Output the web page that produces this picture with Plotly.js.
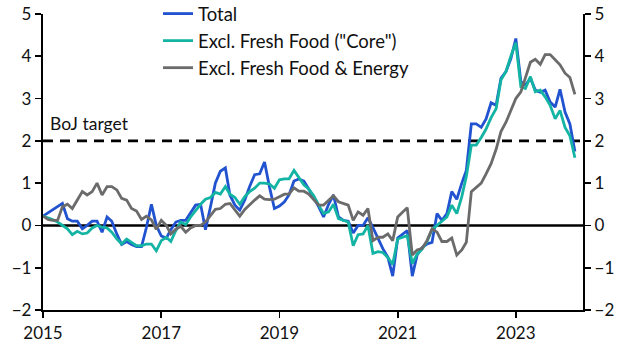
<!DOCTYPE html>
<html><head><meta charset="utf-8">
<script src="https://cdn.plot.ly/plotly-3.0.1.min.js"></script>
<style>html,body{margin:0;padding:0;background:#fff;}#chart{width:630px;height:355px;}</style>
</head><body><div id="chart"></div>
<script>
// Monthly, Jan 2015 - Jan 2024, % y/y
const startYear = 2015;
const total = [0.22,0.3,0.38,0.45,0.52,0.16,0.1,0.1,-0.08,0.0,0.1,0.1,
 -0.16,0.2,0.1,-0.2,-0.45,-0.38,-0.45,-0.5,-0.5,-0.05,0.5,0.0,
 -0.25,-0.3,-0.1,0.08,0.12,0.12,0.3,0.48,0.5,-0.1,0.44,1.0,
 1.28,1.36,0.72,0.48,0.36,0.6,0.92,1.2,1.22,1.5,0.9,0.4,
 0.46,0.56,0.72,1.05,1.1,1.05,0.86,0.66,0.44,0.2,0.5,0.72,
 0.2,0.12,0.1,-0.18,0.0,0.0,0.18,-0.05,-0.3,-0.55,-0.75,-1.2,
 -0.3,-0.2,-0.12,-1.2,-0.7,-0.52,-0.44,-0.4,0.28,0.12,0.28,0.8,
 0.62,1.0,1.3,2.4,2.4,2.32,2.52,2.9,2.84,3.48,3.64,3.94,
 4.42,3.4,3.32,3.48,3.2,3.15,3.2,2.92,2.8,3.22,2.68,2.4,
 1.75];
const core = [0.22,0.18,0.14,0.08,0.0,-0.08,-0.22,-0.14,-0.2,-0.18,-0.06,0.0,
 -0.04,-0.06,-0.16,-0.32,-0.44,-0.32,-0.4,-0.48,-0.48,-0.44,-0.44,-0.6,
 -0.36,-0.28,-0.38,-0.12,0.08,0.02,0.2,0.36,0.5,0.62,0.66,0.78,
 0.74,0.92,0.74,0.66,0.5,0.68,0.8,0.88,1.0,1.0,0.98,0.88,
 1.08,1.1,1.1,1.3,1.12,0.96,0.86,0.7,0.48,0.28,0.32,0.5,
 0.16,0.12,0.08,-0.48,-0.22,-0.2,0.0,-0.66,-0.62,-0.64,-0.76,-0.92,
 -0.32,-0.28,-0.24,-0.9,-0.68,-0.56,-0.38,-0.1,0.0,0.08,0.2,0.48,
 0.28,0.68,1.16,1.9,1.9,2.08,2.28,2.55,2.76,3.44,3.64,4.0,
 4.32,3.28,3.24,3.52,3.16,3.2,3.04,2.84,2.52,2.72,2.32,2.12,
 1.6];
const coreCore = [0.22,0.14,0.12,0.12,0.44,0.5,0.4,0.6,0.8,0.72,0.8,1.0,
 0.72,0.92,0.92,0.84,0.64,0.6,0.4,0.34,0.14,0.22,0.13,-0.09,
 0.12,0.0,-0.2,-0.09,-0.02,-0.16,-0.06,0.0,0.0,0.08,0.22,0.38,
 0.4,0.5,0.52,0.36,0.22,0.38,0.5,0.6,0.7,0.62,0.61,0.62,
 0.68,0.74,0.74,0.89,0.81,0.81,0.74,0.6,0.48,0.48,0.6,0.7,
 0.56,0.52,0.48,0.12,0.32,0.24,0.4,-0.36,-0.28,-0.28,-0.2,-0.36,
 0.2,0.32,0.42,-0.7,-0.58,-0.54,-0.36,-0.08,-0.16,-0.38,-0.38,-0.3,
 -0.7,-0.58,-0.4,0.8,0.9,1.0,1.22,1.46,1.8,2.22,2.44,2.7,
 3.0,3.16,3.5,3.86,3.93,3.81,4.04,4.04,3.92,3.8,3.6,3.5,
 3.1];
const seriesNames = ['Total','Excl. Fresh Food ("Core")','Excl. Fresh Food & Energy'];
const seriesColors = ['#2152CF','#14B4A4','#6B6B6B'];
const xTickVals = ['2015-01-01','2017-01-01','2019-01-01','2021-01-01','2023-01-01'];
const xTickText = ['2015','2017','2019','2021','2023'];
const bojTarget = 2;

const months = total.map((_, i) => {
  const y = startYear + Math.floor(i / 12);
  const m = (i % 12) + 1;
  return y + '-' + String(m).padStart(2, '0') + '-01';
});

const FONT = 'Lato, Noto Sans, sans-serif';
const TXT = '#111';
const traces = [total, core, coreCore].map((vals, k) => ({
  type: 'scatter', mode: 'lines', x: months, y: vals, name: seriesNames[k],
  line: {color: seriesColors[k], width: 2.8}, yaxis: 'y'
}));

const yCommon = {
  range: [-2, 5], dtick: 1, tick0: 0, showgrid: false, showline: true,
  linecolor: '#000', linewidth: 2.2, ticks: 'outside', ticklen: 6, tickwidth: 1.8,
  tickcolor: '#000', tickfont: {family: FONT, size: 17, color: TXT},
  zeroline: false, fixedrange: true
};

const layout = {
  width: 630, height: 355,
  margin: {l: 43, r: 47, t: 14, b: 45, autoexpand: false},
  paper_bgcolor: '#fff', plot_bgcolor: '#fff',
  font: {family: FONT, size: 17, color: TXT},
  showlegend: true,
  legend: {x: 0.213, y: 1.064, xanchor: 'left', yanchor: 'top', bgcolor: 'rgba(0,0,0,0)',
           font: {family: FONT, size: 18.5, color: TXT}, tracegroupgap: 0},
  xaxis: {type: 'date', range: ['2015-01-01', '2024-02-20'], tickvals: xTickVals, ticktext: xTickText,
          showgrid: false, showline: true, linecolor: '#000', linewidth: 2.2, ticks: 'outside',
          ticklen: 6, tickwidth: 1.8, tickcolor: '#000', zeroline: false,
          tickfont: {family: FONT, size: 17, color: TXT}, fixedrange: true},
  yaxis: Object.assign({}, yCommon, {side: 'left'}),
  yaxis2: Object.assign({}, yCommon, {side: 'right', overlaying: 'y', anchor: 'x'}),
  shapes: [
    {type: 'line', xref: 'paper', x0: 0, x1: 1, yref: 'y', y0: 0, y1: 0,
     line: {color: '#000', width: 2.4}, layer: 'below'},
    {type: 'line', xref: 'paper', x0: 0, x1: 1, yref: 'y', y0: bojTarget, y1: bojTarget,
     line: {color: '#000', width: 2.6, dash: '10px,7px'}, layer: 'below'}
  ],
  annotations: [
    {xref: 'paper', x: 0.01, yref: 'y', y: bojTarget + 0.42, text: 'BoJ target', showarrow: false,
     xanchor: 'left', yanchor: 'middle', font: {family: FONT, size: 17.5, color: TXT}}
  ]
};
// invisible trace so the right-hand axis is drawn
traces.push({type: 'scatter', mode: 'lines', x: [months[0]], y: [0], yaxis: 'y2', showlegend: false,
  hoverinfo: 'skip', line: {color: 'rgba(0,0,0,0)'}});

Plotly.newPlot('chart', traces, layout, {staticPlot: true, displayModeBar: false});
</script></body></html>
